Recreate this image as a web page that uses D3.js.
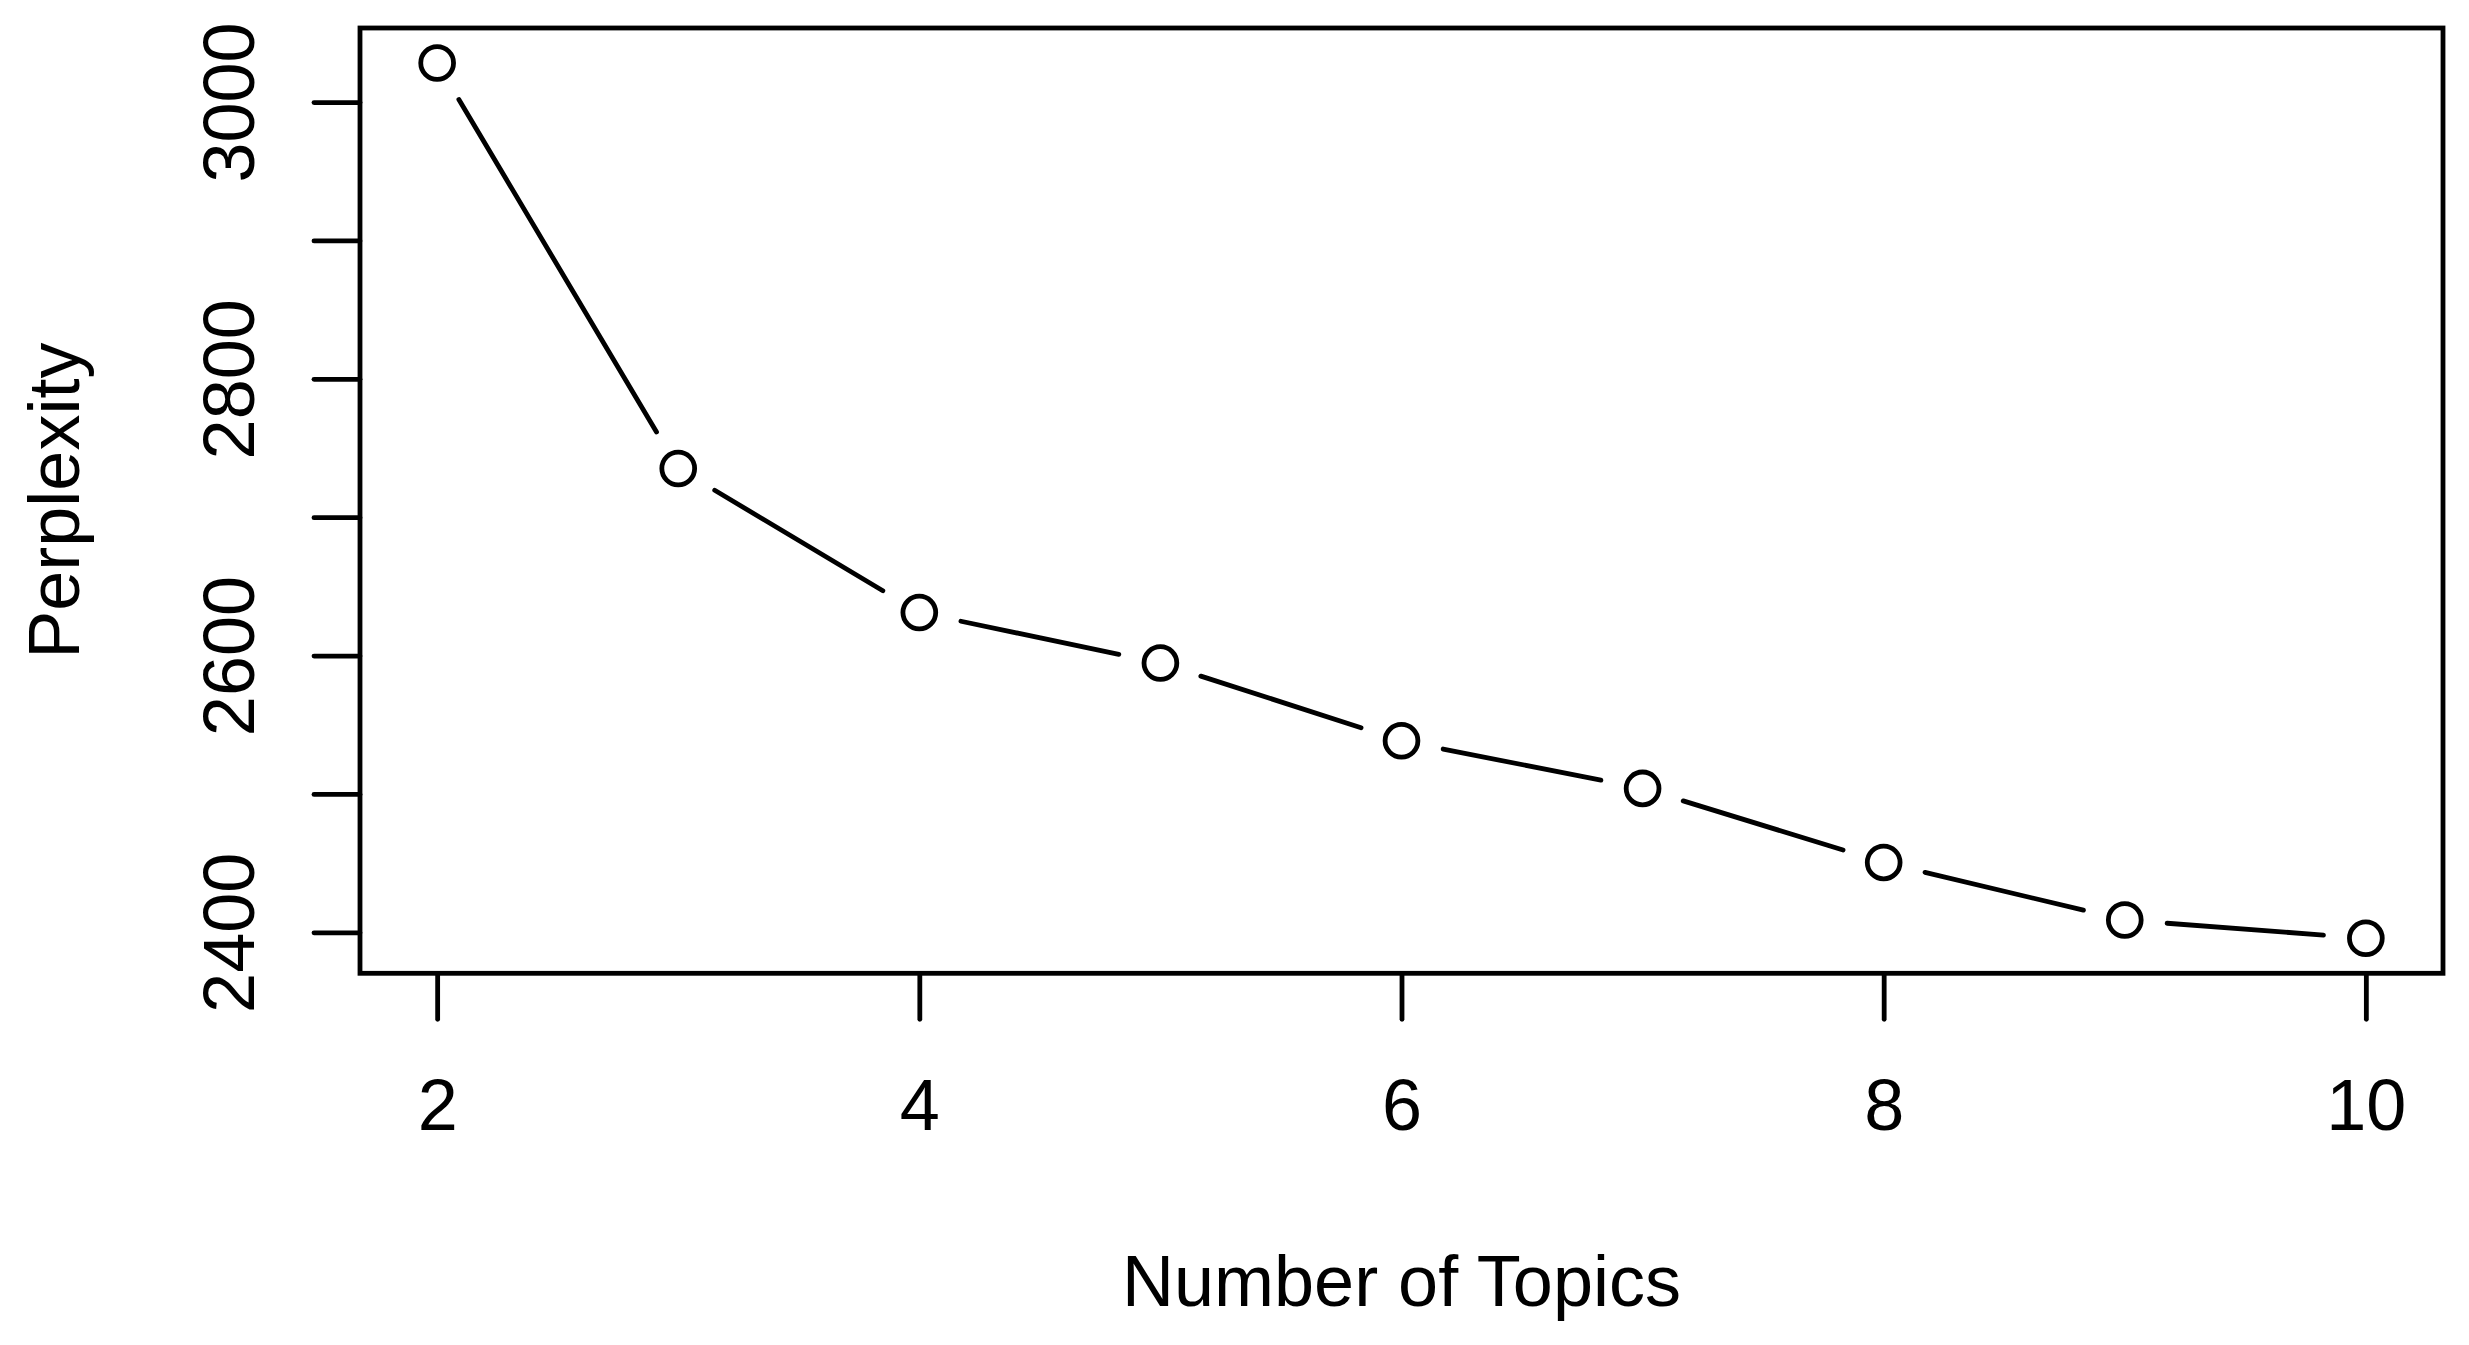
<!DOCTYPE html>
<html>
<head>
<meta charset="utf-8">
<script src="https://cdn.jsdelivr.net/npm/d3@7"></script>
<style>
  body { margin: 0; background: #fff; }
  text { font-family: "Liberation Sans", Arial, sans-serif; fill: #000; }
</style>
</head>
<body>
<div id="chart"></div>
<script>
// number of topics vs perplexity
var topics = [2, 3, 4, 5, 6, 7, 8, 9, 10];
var perplexity = [3028.2, 2735.2, 2631.1, 2594.6, 2538.4, 2504.0, 2450.5, 2408.9, 2395.7];
var xTicks = [2, 4, 6, 8, 10];
var yTicks = [2400, 2500, 2600, 2700, 2800, 2900, 3000];
var yLabels = [2400, 2600, 2800, 3000];

var W = 2469, H = 1345;
var plotLeft = 360, plotRight = 2443, plotTop = 28, plotBottom = 973.3;
var fontSize = 72;
var lw = 4.8;

// R style 4% padding of the data range
function pad(ext) {
  var d = (ext[1] - ext[0]) * 0.04;
  return [ext[0] - d, ext[1] + d];
}

var x = d3.scaleLinear().domain(pad(d3.extent(topics))).range([plotLeft, plotRight]);
var y = d3.scaleLinear().domain(pad(d3.extent(perplexity))).range([plotBottom, plotTop]);

var svg = d3.select("#chart").append("svg")
  .attr("width", W).attr("height", H);

var pts = topics.map(function(t, i) { return { px: x(t), py: y(perplexity[i]) }; });

// type = "b": segments with gaps around points
var gap = 42.5;
var segs = d3.pairs(pts).map(function(p) {
  var dx = p[1].px - p[0].px, dy = p[1].py - p[0].py;
  var len = Math.sqrt(dx * dx + dy * dy);
  var ux = dx / len, uy = dy / len;
  return { x1: p[0].px + ux * gap, y1: p[0].py + uy * gap,
           x2: p[1].px - ux * gap, y2: p[1].py - uy * gap };
});

svg.append("g").selectAll("line")
  .data(segs)
  .enter().append("line")
    .attr("x1", function(d) { return d.x1; })
    .attr("y1", function(d) { return d.y1; })
    .attr("x2", function(d) { return d.x2; })
    .attr("y2", function(d) { return d.y2; })
    .attr("stroke", "#000")
    .attr("stroke-width", lw)
    .attr("stroke-linecap", "round");

svg.append("g").selectAll("circle")
  .data(pts)
  .enter().append("circle")
    .attr("cx", function(d) { return d.px; })
    .attr("cy", function(d) { return d.py; })
    .attr("r", 16.4)
    .attr("fill", "none")
    .attr("stroke", "#000")
    .attr("stroke-width", lw);

// box
svg.append("rect")
  .attr("x", plotLeft).attr("y", plotTop)
  .attr("width", plotRight - plotLeft).attr("height", plotBottom - plotTop)
  .attr("fill", "none")
  .attr("stroke", "#000")
  .attr("stroke-width", lw);

// x axis
var gx = svg.append("g")
  .attr("transform", "translate(0," + plotBottom + ")")
  .call(d3.axisBottom(x).tickValues(xTicks).tickSize(46).tickPadding(60).tickFormat(d3.format("d")));
gx.select(".domain").remove();
gx.selectAll(".tick line").attr("stroke-width", lw).attr("stroke-linecap", "round");
gx.selectAll(".tick text")
  .attr("font-size", fontSize)
  .attr("font-family", "Liberation Sans, Arial, sans-serif");

// y axis, rotated labels
var gy = svg.append("g")
  .attr("transform", "translate(" + plotLeft + ",0)")
  .call(d3.axisLeft(y).tickValues(yTicks).tickSize(46)
    .tickFormat(function(d) { return yLabels.indexOf(d) >= 0 ? d : ""; }));
gy.select(".domain").remove();
gy.selectAll(".tick line").attr("stroke-width", lw).attr("stroke-linecap", "round");
gy.selectAll(".tick text")
  .attr("x", 0).attr("y", 0).attr("dy", 0)
  .attr("text-anchor", "middle")
  .attr("transform", "translate(-106,0) rotate(-90)")
  .attr("font-size", fontSize)
  .attr("font-family", "Liberation Sans, Arial, sans-serif");

// axis titles
svg.append("text")
  .attr("x", (plotLeft + plotRight) / 2).attr("y", 1306)
  .attr("text-anchor", "middle")
  .attr("font-size", fontSize)
  .text("Number of Topics");

svg.append("text")
  .attr("transform", "translate(79," + (plotTop + plotBottom) / 2 + ") rotate(-90)")
  .attr("text-anchor", "middle")
  .attr("font-size", fontSize)
  .text("Perplexity");
</script>
</body>
</html>
